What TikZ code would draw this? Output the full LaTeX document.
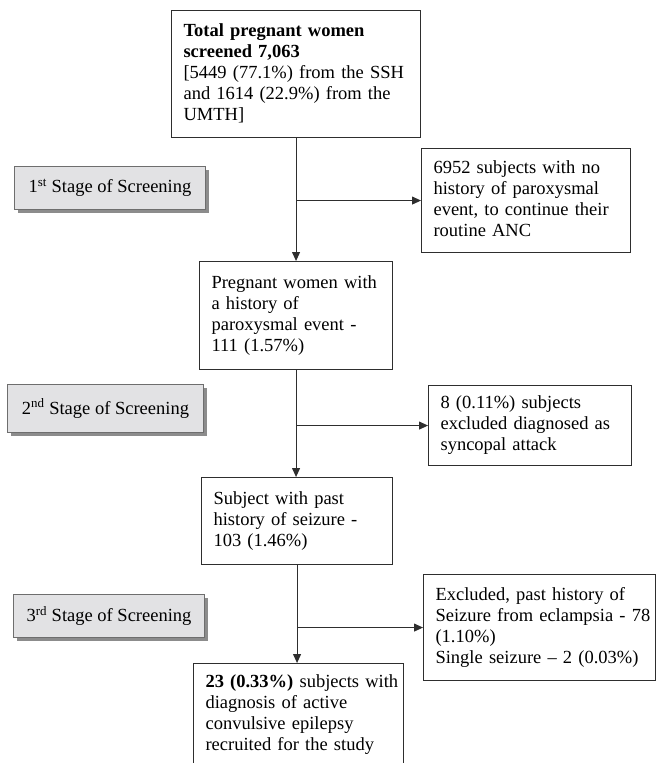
\documentclass[tikz,border=0pt]{standalone}
\usepackage{fontspec}
\setmainfont{Liberation Serif}
\usetikzlibrary{arrows.meta,shadows}
\definecolor{linec}{HTML}{2E2E2E}
\definecolor{stagefill}{HTML}{E2E2E4}
\definecolor{stageline}{HTML}{6E6E6E}
\definecolor{shadowgray}{HTML}{8C8C8C}
\newcommand\Lines[1]{\begin{tabular}{@{}l@{}}#1\end{tabular}}
\begin{document}
\begin{tikzpicture}[x=1pt,y=-1pt,
  every node/.style={font=\fontsize{18.5}{21}\selectfont, text=black},
  tb/.style={draw=linec, line width=1.1pt, fill=white, anchor=north west,
    align=left, inner xsep=12pt, inner ysep=0pt},
  stagebox/.style={draw=stageline, line width=1pt, fill=stagefill, anchor=north west,
    align=center, inner sep=0pt,
    drop shadow={shadow xshift=3pt, shadow yshift=-3pt, fill=shadowgray, opacity=1}},
  arr/.style={draw=linec, line width=1pt, -{Triangle[length=9pt,width=8pt]}}]
\useasboundingbox (0,0) rectangle (656,763);
\clip (0,0) rectangle (656,763);

\node[tb, minimum width=249pt, minimum height=127pt, text width=225pt] (total) at (171,10)
  {\Lines{\textbf{Total pregnant women}\\ \textbf{screened 7,063}\\ {[5449 (77.1\%) from the SSH}\\ and 1614 (22.9\%) from the\\ UMTH]}};
\node[tb, minimum width=209pt, minimum height=104pt, text width=185pt] (no) at (421,148)
  {\Lines{6952 subjects with no\\ history of paroxysmal\\ event, to continue their\\ routine ANC}};
\node[stagebox, minimum width=191pt, minimum height=43pt] (s1) at (14,166)
  {1\textsuperscript{st} Stage of Screening};
\node[tb, minimum width=193pt, minimum height=108pt, text width=169pt] (preg) at (199,261)
  {\Lines{Pregnant women with\\ a history of\\ paroxysmal event -\\ 111 (1.57\%)}};
\node[stagebox, minimum width=196pt, minimum height=48pt] (s2) at (7,384)
  {2\textsuperscript{nd} Stage of Screening};
\node[tb, minimum width=203pt, minimum height=80pt, text width=179pt] (syn) at (428,385)
  {\Lines{8 (0.11\%) subjects\\ excluded diagnosed as\\ syncopal attack}};
\node[tb, minimum width=191pt, minimum height=87pt, text width=167pt] (subj) at (201,477)
  {\Lines{Subject with past\\ history of seizure -\\ 103 (1.46\%)}};
\node[stagebox, minimum width=191pt, minimum height=43pt] (s3) at (13,594)
  {3\textsuperscript{rd} Stage of Screening};
\node[tb, minimum width=232pt, minimum height=106pt, text width=208pt] (excl) at (423,574)
  {\Lines{Excluded, past history of\\ Seizure from eclampsia - 78\\ (1.10\%)\\ Single seizure -- 2 (0.03\%)}};
\node[tb, minimum width=210pt, minimum height=102pt, text width=186pt] (final) at (193,663)
  {\Lines{\textbf{23 (0.33\%)} subjects with\\ diagnosis of active\\ convulsive epilepsy\\ recruited for the study}};

\draw[arr] (total.south) -- (preg.north);
\coordinate (b1) at (total.south |- no.west);
\draw[arr] (b1) -- (no.west);
\draw[arr] (preg.south) -- (preg.south |- subj.north);
\coordinate (b2) at (preg.south |- syn.west);
\draw[arr] (b2) -- (syn.west);
\draw[arr] (subj.south) -- (subj.south |- final.north);
\coordinate (b3) at (subj.south |- excl.west);
\draw[arr] (b3) -- (excl.west);
\end{tikzpicture}
\end{document}
